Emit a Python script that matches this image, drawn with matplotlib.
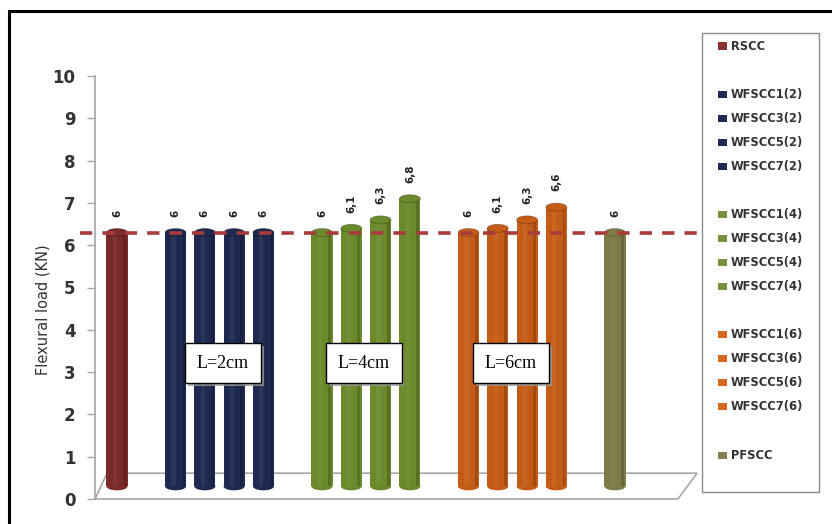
import matplotlib
matplotlib.use('Agg')
from matplotlib import pyplot as plt
from matplotlib import patches
from matplotlib import patheffects as pe

# data
labels = ['RSCC',
          'WFSCC1(2)', 'WFSCC3(2)', 'WFSCC5(2)', 'WFSCC7(2)',
          'WFSCC1(4)', 'WFSCC3(4)', 'WFSCC5(4)', 'WFSCC7(4)',
          'WFSCC1(6)', 'WFSCC3(6)', 'WFSCC5(6)', 'WFSCC7(6)',
          'PFSCC']
groups = [0, 1, 1, 1, 1, 2, 2, 2, 2, 3, 3, 3, 3, 4]
loads = [6, 6, 6, 6, 6, 6, 6.1, 6.3, 6.8, 6, 6.1, 6.3, 6.6, 6]
ref_load = 6
group_names = ['L=2cm', 'L=4cm', 'L=6cm']

group_colors = ['#7a2a2a', '#1f2a50', '#6b8a2c', '#c45c18', '#7e7b48']
legend_colors = ['#8c3232', '#1f2a55', '#76923c', '#d7661e', '#858250']

depth = 0.3      # 3d look: bars stand in the middle of the floor
bar_w = 0.72
cap_h = 0.19

fig = plt.figure(figsize=(8.32, 5.24), dpi=100)
W, H = 832.0, 524.0

# outer black frame (cut by the image edge on the right and bottom)
fig.patches.append(patches.Rectangle((9 / W, -0.2), 1.2, 1.2 - 11 / H,
                                     transform=fig.transFigure, fill=False,
                                     edgecolor='black', linewidth=2.2))

ax = fig.add_axes([95 / W, 1 - 499 / H, (697 - 95) / W, (499 - 76) / H])
ax.set_xlim(-0.75, 19.8)
ax.set_ylim(0, 10)
ax.patch.set_alpha(0)

# floor
floor = patches.Polygon([(-0.75, 0), (-0.34, 0.61), (19.8, 0.61), (19.15, 0)],
                        closed=True, facecolor='white', edgecolor='#a6a6a6',
                        linewidth=1.2, zorder=1, clip_on=False)
ax.add_patch(floor)

xs = [i + g for i, g in enumerate(groups)]
for x, v, g in zip(xs, loads, groups):
    c = group_colors[g]
    ax.add_patch(patches.Ellipse((x, depth), bar_w, cap_h, facecolor=c,
                                 edgecolor='none', zorder=2))
    ax.bar(x, v, width=bar_w, bottom=depth, color=c, zorder=2)
    # darker side for the round look
    ax.bar(x + bar_w * 0.36, v, width=bar_w * 0.14, bottom=depth,
           color='black', alpha=0.18, zorder=2, linewidth=0)
    ax.bar(x - bar_w * 0.1, v, width=bar_w * 0.2, bottom=depth,
           color='white', alpha=0.06, zorder=2, linewidth=0)
    ax.add_patch(patches.Ellipse((x, v + depth), bar_w, cap_h, facecolor=c,
                                 edgecolor=(0, 0, 0, 0.3), linewidth=0.5,
                                 zorder=3))
    txt = ('%g' % v).replace('.', ',')
    ax.text(x, v + depth + 0.37, txt, rotation=90, ha='center', va='bottom',
            fontsize=7.5, fontweight='bold', color='#222222', zorder=4)

# reference dashed line at the RSCC level
ax.plot([-1.26, 19.8], [ref_load + depth, ref_load + depth], color='#a83c3c',
        linewidth=2.6, dashes=(3.4, 2.8), zorder=5, clip_on=False)

# group boxes
box_x = [3.62, 8.43, 13.45]
for bx, name in zip(box_x, group_names):
    t = ax.text(bx, 3.21, name, ha='center', va='center', fontsize=13,
                family='Liberation Serif', zorder=6,
                bbox=dict(boxstyle='square,pad=0.65', facecolor='white',
                          edgecolor='black', linewidth=1.0))
    t.get_bbox_patch().set_path_effects(
        [pe.SimplePatchShadow(offset=(2, -2), shadow_rgbFace='#9a9a9a', alpha=0.8),
         pe.Normal()])

# axes styling
for s in ['top', 'right', 'bottom']:
    ax.spines[s].set_visible(False)
ax.spines['left'].set_color('#a6a6a6')
ax.spines['left'].set_linewidth(1.2)
ax.set_xticks([])
ax.set_yticks(range(0, 11))
ax.tick_params(axis='y', length=6, width=1, color='#a6a6a6', pad=8,
               labelsize=12, labelcolor='#333333')
for lab in ax.get_yticklabels():
    lab.set_fontweight('bold')

fig.text(43 / W, 1 - 310 / H, 'Flexural load (KN)', rotation=90, ha='center',
         va='center', fontsize=10.5, color='#333333')

# legend box drawn by hand (blank rows between groups)
fig.patches.append(patches.Rectangle((702 / W, 1 - 492 / H), 117 / W, 459 / H,
                                     transform=fig.transFigure, facecolor='white',
                                     edgecolor='#8c8c8c', linewidth=1.0))
for i, (name, g) in enumerate(zip(labels, groups)):
    row_y = 46 + 24.06 * (i + g)
    fig.patches.append(patches.Rectangle((718 / W, 1 - (row_y + 3.5) / H), 9 / W, 7 / H,
                                         transform=fig.transFigure,
                                         facecolor=legend_colors[g], edgecolor='none'))
    fig.text(731 / W, 1 - row_y / H, name, ha='left', va='center', fontsize=8.3,
             fontweight='bold', color='#333333')

plt.savefig('out.png', dpi=100)
